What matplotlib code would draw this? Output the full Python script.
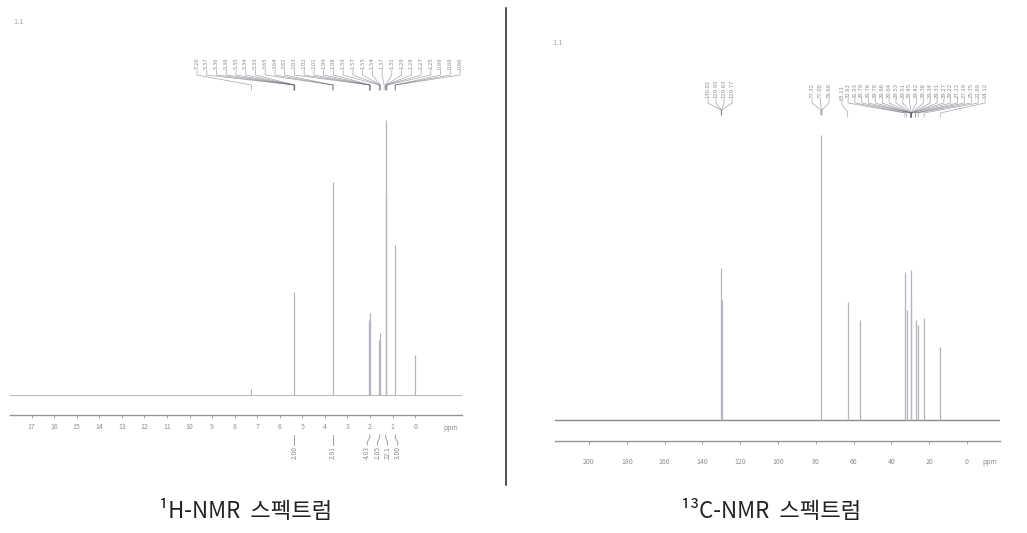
import numpy as np
import matplotlib.pyplot as plt
from matplotlib.lines import Line2D

plt.rcParams['font.family'] = ['Noto Sans CJK KR', 'DejaVu Sans']

W, H = 1027, 533

# 1H spectrum: shift (ppm) and peak height (arbitrary, ~px)
h_shift = [7.26, 5.35, 3.64, 2.03, 2.00, 1.58, 1.55, 1.30, 1.27, 0.88, 0.00]
h_height = [6, 103, 213, 75, 82, 55, 62, 275, 200, 150, 40]
h_ticks = list(range(17, -1, -1))
h_int_shift = [5.35, 3.64, 2.01, 1.57, 1.30, 0.88]
h_int_label = ['2.00', '2.01', '4.03', '2.05', '22.1', '3.00']
h_pick = [7.26, 5.37, 5.36, 5.36, 5.35, 5.34, 5.33, 3.65, 3.64, 3.62,
          2.03, 2.02, 2.01, 1.99, 1.98, 1.59, 1.57, 1.55, 1.54, 1.37,
          1.31, 1.29, 1.28, 1.27, 1.25, 0.89, 0.88, 0.86]

# 13C spectrum
c_shift = [130.0, 129.8, 77.2, 63.1, 56.8, 32.8, 31.9, 29.7, 29.4, 27.2, 25.7, 22.7, 14.1]
c_height = [152, 120, 285, 118, 100, 148, 110, 150, 120, 100, 95, 102, 73]
c_ticks = list(range(200, -1, -20))
c_pick_a = [130.02, 129.95, 129.83, 129.77]
c_pick_b = [77.32, 77.00, 76.68]
c_pick_c = [63.11, 32.83, 31.93, 29.79, 29.76, 29.70, 29.66, 29.64, 29.53, 29.51, 29.45,
            29.42, 29.38, 29.34, 29.31, 29.27, 29.22, 27.22, 27.19, 25.75, 22.69, 14.12]

spec_col = '#b2b5bd'
axis_col = '#949494'
txt_col = '#8f8f8f'
pick_col = '#8a8c98'
link_col = '#6c6674'


def px2x(ax, px):
    # pixel column -> data x of that axes
    inv = ax.transData.inverted()
    return inv.transform((px, 0))[0]


def draw_picks(ax, vals, px_from, px_to, y_lab, y_knee1, y_knee2, y_end, fs=4.3):
    if len(vals) == 1:
        xs = [px_from]
    else:
        xs = np.linspace(px_from, px_to, len(vals))
    for v, xp in zip(vals, xs):
        xl = px2x(ax, xp)
        ax.text(xl, y_lab, '%.2f' % v, rotation=90,
                ha='center', va='bottom', fontsize=fs, color=pick_col, clip_on=False)
        ax.plot([xl, xl, v, v], [y_lab - 1, y_knee1, y_knee2, y_end],
                color=link_col, lw=0.5, alpha=0.6, clip_on=False)


def style_axis(ax, pad):
    for s in ['top', 'right', 'left']:
        ax.spines[s].set_visible(False)
    ax.spines['bottom'].set_color(axis_col)
    ax.spines['bottom'].set_linewidth(1.0)
    ax.set_yticks([])
    ax.tick_params(axis='x', direction='out', length=2, width=0.6, color=axis_col,
                   labelsize=5, labelcolor=txt_col, pad=pad)
    ax.patch.set_alpha(0)


fig = plt.figure(figsize=(W / 100, H / 100), dpi=100)

# ---- 1H panel ----
ax1 = fig.add_axes([10 / W, (H - 415) / H, 452 / W, 385 / H])
ax1.set_xlim(17.96, -2.08)
ax1.set_ylim(-20, 365)
ax1.axhline(0, color='#bcbcbc', lw=0.8)
ax1.vlines(h_shift, 0, h_height, color=spec_col, lw=0.9)
ax1.set_xticks(h_ticks)
ax1.set_xticklabels([str(t) for t in h_ticks])
style_axis(ax1, 4)
ax1.text(-1.6, -33, 'ppm', ha='center', va='center', fontsize=5, color=txt_col, clip_on=False)
fig.canvas.draw()
draw_picks(ax1, h_pick, 197, 460, 326, 320, 310, 305)

# integration brackets under the axis
gap = 0.45
lab_x = [h_int_shift[0]]
for s in h_int_shift[1:]:
    lab_x.append(min(s, lab_x[-1] - gap))
shift_back = (lab_x[2] - lab_x[-1]) / 2 - (h_int_shift[2] - h_int_shift[-1]) / 2
lab_x = lab_x[:2] + [x + shift_back for x in lab_x[2:]]
for s, lx, lab in zip(h_int_shift, lab_x, h_int_label):
    ax1.plot([s, s, lx, lx], [-40, -43, -47, -50], color=txt_col, lw=0.6, clip_on=False)
    ax1.text(lx, -51, lab, rotation=90, ha='center', va='top', fontsize=4.8,
             color=txt_col, clip_on=False)

# ---- 13C panel ----
ax2 = fig.add_axes([555 / W, (H - 441) / H, 445 / W, 391 / H])
ax2.set_xlim(218, -17.5)
ax2.set_ylim(-21, 370)
ax2.axhline(0, color='#8a8a8a', lw=1.0)
ax2.vlines(c_shift, 0, c_height, color=spec_col, lw=0.9)
ax2.set_xticks(c_ticks)
ax2.set_xticklabels([str(t) for t in c_ticks])
style_axis(ax2, 10)
ax2.text(-12, -42, 'ppm', ha='center', va='center', fontsize=5, color=txt_col, clip_on=False)
fig.canvas.draw()
draw_picks(ax2, c_pick_a, 708, 732, 322, 317, 310, 305)
draw_picks(ax2, c_pick_b, 812, 829, 322, 317, 310, 305)
draw_picks(ax2, c_pick_c[:1], 842, 842, 320, 315, 308, 303)
draw_picks(ax2, c_pick_c[1:], 848, 985, 322, 317, 307, 303)

# small sample tags
fig.text(13 / W, 1 - 22 / H, '1.1', fontsize=5.5, color='#a8a8a8', va='center')
fig.text(552 / W, 1 - 43 / H, '1.1', fontsize=5.5, color='#a8a8a8', va='center')

# divider
fig.add_artist(Line2D([506 / W, 506 / W], [1 - 8 / H, 1 - 485 / H], color='#222222', lw=1.1))

# captions
fig.text(246 / W, 1 - 512 / H, '¹H-NMR  스펙트럼', ha='center', va='center',
         fontsize=16, color='#222222')
fig.text(771 / W, 1 - 512 / H, '¹³C-NMR  스펙트럼', ha='center', va='center',
         fontsize=16, color='#222222')

fig.savefig('out.png', dpi=100)
